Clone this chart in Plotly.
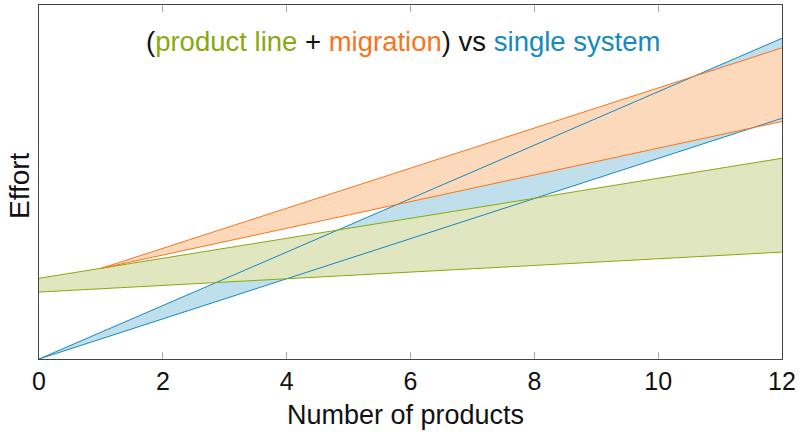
import plotly.graph_objects as go

# Data (effort in arbitrary units)
single_x = [0, 12]
single_upper = [0, 90.6]
single_lower = [0, 68.0]

pl_x = [0, 12]
pl_upper = [22.8, 56.7]
pl_lower = [18.9, 30.2]

mig_x = [1, 12]
mig_upper = [25.6, 87.9]
mig_lower = [25.6, 67.1]

x_ticks = [0, 2, 4, 6, 8, 10, 12]

BLUE, BLUE_F = "#1589c0", "#c0dfec"
GREEN, GREEN_F = "#8aa80f", "#e0e6bf"
ORANGE, ORANGE_F = "#fb7419", "#fdd9bc"

FONT = "Liberation Sans, Arial, Helvetica"

fig = go.Figure()

def band(x, up, lo, fc):
    fig.add_trace(go.Scatter(x=list(x) + list(x)[::-1], y=list(up) + list(lo)[::-1],
                             fill="toself", fillcolor=fc, mode="none",
                             hoverinfo="skip", showlegend=False))

band(single_x, single_upper, single_lower, BLUE_F)
band(pl_x, pl_upper, pl_lower, GREEN_F)
band(mig_x, mig_upper, mig_lower, ORANGE_F)

for x, ys, c in [(single_x, single_upper, BLUE), (single_x, single_lower, BLUE),
                 (pl_x, pl_upper, GREEN), (pl_x, pl_lower, GREEN),
                 (mig_x, mig_upper, ORANGE), (mig_x, mig_lower, ORANGE)]:
    fig.add_trace(go.Scatter(x=x, y=ys, mode="lines", line=dict(color=c, width=1),
                             showlegend=False))

W, H = 803, 434
ML, MR, MT, MB = 39, 21, 5, 75
PT, PB = MT, H - MB
def py(pix):  # paper y from pixel
    return (PB - pix) / (PB - PT)
def px(pix):
    return (pix - ML) / (W - ML - MR)

title = ("<span style='color:#111'>(</span>"
         f"<span style='color:{GREEN}'>product line</span>"
         "<span style='color:#111'> + </span>"
         f"<span style='color:{ORANGE}'>migration</span>"
         "<span style='color:#111'>) vs </span>"
         f"<span style='color:{BLUE}'>single system</span>")
fig.add_annotation(text=title, x=px(402.5), y=py(42), xref="paper", yref="paper",
                   xanchor="center", yanchor="middle",
                   showarrow=False, font=dict(family=FONT, size=27.5))
fig.add_annotation(text="Number of products", x=px(405.5), y=py(415), xref="paper", yref="paper",
                   xanchor="center", yanchor="middle",
                   showarrow=False, font=dict(family=FONT, size=27, color="#111"))
fig.add_annotation(text="Effort", x=px(19), y=py(186), xref="paper",
                   yref="paper", xanchor="center", yanchor="middle", textangle=-90,
                   showarrow=False, font=dict(family=FONT, size=28, color="#111"))

fig.update_layout(
    width=W, height=H,
    margin=dict(l=ML, r=MR, t=MT, b=MB, autoexpand=False),
    paper_bgcolor="white", plot_bgcolor="white",
    font=dict(family=FONT, size=24, color="#111"),
    xaxis=dict(range=[0, 12], tickvals=x_ticks, ticks="inside", ticklen=7,
               tickcolor="#aaa", tickwidth=1, showline=True, linecolor="#444",
               mirror="ticks", showgrid=False, zeroline=False, automargin=False,
               tickfont=dict(size=25)),
    yaxis=dict(range=[0, 100], showticklabels=False, ticks="", showline=True,
               linecolor="#444", mirror=True, showgrid=False, zeroline=False,
               automargin=False),
)

fig.write_html("out.html", config={"displayModeBar": False},
               post_script="document.body.style.margin='0';document.body.style.overflow='hidden';")
